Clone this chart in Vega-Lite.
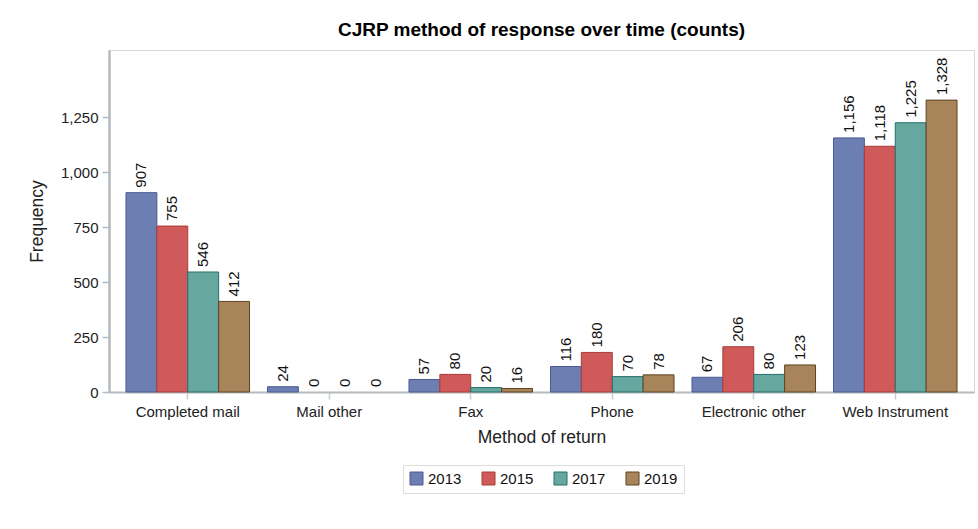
{
  "$schema": "https://vega.github.io/schema/vega-lite/v6.json",
  "autosize": {"type": "none"},
  "padding": {"left": 109, "top": 50, "right": 4, "bottom": 137},
  "width": 865,
  "height": 342,
  "background": "white",
  "title": {
    "text": "CJRP method of response over time (counts)",
    "font": "Liberation Sans",
    "fontSize": 19,
    "fontWeight": "bold",
    "color": "#000000",
    "anchor": "middle",
    "offset": 10
  },
  "config": {
    "view": {"stroke": "#D4D8DA", "strokeWidth": 1},
    "font": "Liberation Sans"
  },
  "data": {
    "values": [
      {"method": "Completed mail", "year": "2013", "count": 907},
      {"method": "Completed mail", "year": "2015", "count": 755},
      {"method": "Completed mail", "year": "2017", "count": 546},
      {"method": "Completed mail", "year": "2019", "count": 412},
      {"method": "Mail other", "year": "2013", "count": 24},
      {"method": "Mail other", "year": "2015", "count": 0},
      {"method": "Mail other", "year": "2017", "count": 0},
      {"method": "Mail other", "year": "2019", "count": 0},
      {"method": "Fax", "year": "2013", "count": 57},
      {"method": "Fax", "year": "2015", "count": 80},
      {"method": "Fax", "year": "2017", "count": 20},
      {"method": "Fax", "year": "2019", "count": 16},
      {"method": "Phone", "year": "2013", "count": 116},
      {"method": "Phone", "year": "2015", "count": 180},
      {"method": "Phone", "year": "2017", "count": 70},
      {"method": "Phone", "year": "2019", "count": 78},
      {"method": "Electronic other", "year": "2013", "count": 67},
      {"method": "Electronic other", "year": "2015", "count": 206},
      {"method": "Electronic other", "year": "2017", "count": 80},
      {"method": "Electronic other", "year": "2019", "count": 123},
      {"method": "Web Instrument", "year": "2013", "count": 1156},
      {"method": "Web Instrument", "year": "2015", "count": 1118},
      {"method": "Web Instrument", "year": "2017", "count": 1225},
      {"method": "Web Instrument", "year": "2019", "count": 1328}
    ]
  },
  "encoding": {
    "x": {
      "field": "method",
      "type": "nominal",
      "sort": ["Completed mail", "Mail other", "Fax", "Phone", "Electronic other", "Web Instrument"],
      "scale": {"paddingInner": 0.127, "paddingOuter": 0.12},
      "axis": {
        "title": "Method of return",
        "labelAngle": 0,
        "labelFontSize": 15,
        "labelColor": "#222222",
        "labelPadding": 5,
        "titleFontSize": 17.5,
        "titleFontWeight": "normal",
        "titleColor": "#222222",
        "titlePadding": 9,
        "domainColor": "#B4BABD",
        "domainWidth": 2,
        "tickColor": "#C8CDD0",
        "tickSize": 7,
        "tickWidth": 1.5
      }
    },
    "xOffset": {"field": "year", "type": "nominal"},
    "y": {
      "field": "count",
      "type": "quantitative",
      "scale": {"domain": [0, 1556], "nice": false},
      "axis": {
        "title": "Frequency",
        "values": [0, 250, 500, 750, 1000, 1250],
        "format": ",d",
        "grid": false,
        "labelFontSize": 15,
        "labelColor": "#222222",
        "labelPadding": 4,
        "titleFontSize": 17.5,
        "titleFontWeight": "normal",
        "titleColor": "#222222",
        "titlePadding": 14,
        "domainColor": "#B4BABD",
        "domainWidth": 2.5,
        "tickColor": "#B4BABD",
        "tickSize": 7,
        "tickWidth": 1.5
      }
    }
  },
  "layer": [
    {
      "mark": {"type": "bar", "strokeWidth": 1},
      "encoding": {
        "fill": {
          "field": "year",
          "type": "nominal",
          "scale": {"domain": ["2013", "2015", "2017", "2019"], "range": ["#6D7EB3", "#D05A5A", "#66A8A0", "#A8845A"]},
          "legend": {
            "title": null,
            "orient": "none",
            "legendX": 294,
            "legendY": 415,
            "direction": "horizontal",
            "symbolType": "square",
            "symbolSize": 169,
            "symbolStrokeWidth": 1,
            "labelFontSize": 15,
            "labelColor": "#111111",
            "columnPadding": 18,
            "padding": 6,
            "strokeColor": "#DCDCDC"
          }
        },
        "stroke": {
          "field": "year",
          "type": "nominal",
          "scale": {"domain": ["2013", "2015", "2017", "2019"], "range": ["#4A5B94", "#A83C36", "#21706A", "#5E4322"]},
          "legend": {
            "title": null,
            "orient": "none",
            "legendX": 294,
            "legendY": 415,
            "direction": "horizontal",
            "symbolType": "square",
            "symbolSize": 169,
            "symbolStrokeWidth": 1,
            "labelFontSize": 15,
            "labelColor": "#111111",
            "columnPadding": 18,
            "padding": 6,
            "strokeColor": "#DCDCDC"
          }
        },
        "strokeOpacity": {"condition": {"test": "datum.count === 0", "value": 0}, "value": 1}
      }
    },
    {
      "mark": {"type": "text", "angle": 270, "align": "left", "baseline": "middle", "dx": 5, "fontSize": 15, "color": "#111111"},
      "encoding": {
        "text": {"field": "count", "type": "quantitative", "format": ",d"}
      }
    }
  ]
}
